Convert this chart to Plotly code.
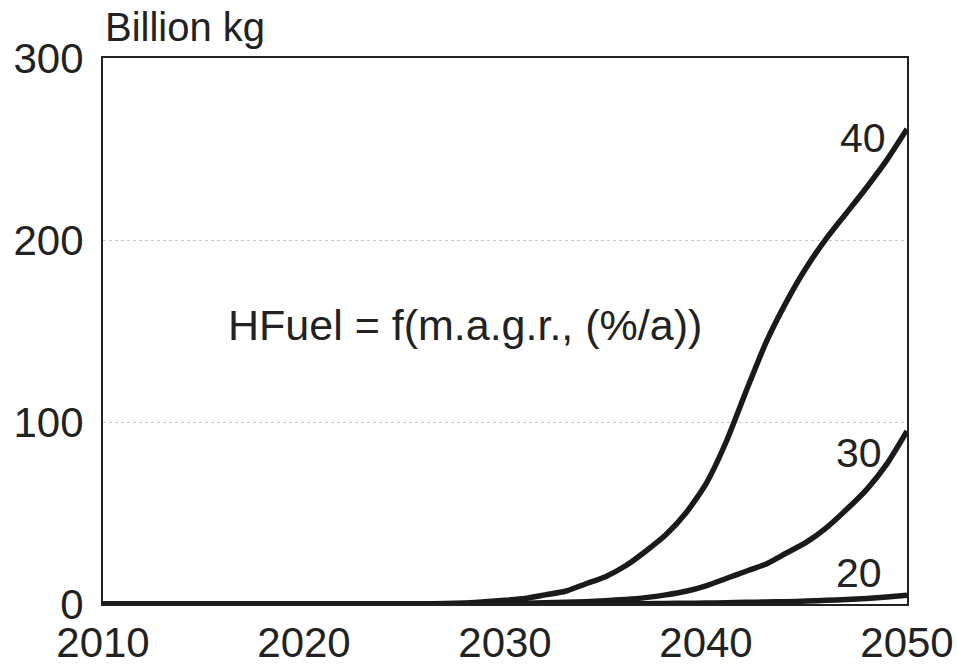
import plotly.graph_objects as go

years = list(range(2010, 2051))
g40 = [0]*17 + [0.3, 0.6, 1.2, 2, 3, 5, 7, 11, 15, 21, 29, 38, 50, 66, 89, 117, 144, 166, 185, 201, 215, 229, 244, 261]
g30 = [0]*20 + [0.3, 0.4, 0.7, 1.0, 1.3, 1.8, 2.5, 3.5, 5, 7, 10, 14, 18, 22, 28, 34, 42, 52, 63, 77, 95]
g20 = [0]*26 + [0.1, 0.2, 0.3, 0.4, 0.5, 0.7, 0.9, 1.1, 1.3, 1.6, 2.0, 2.5, 3.0, 3.8, 4.8]

series = [("40", g40), ("30", g30), ("20", g20)]
label_pos = {"40": (2047.8, 256), "30": (2047.6, 83), "20": (2047.6, 17)}

yticks = [0, 100, 200, 300]
xticks = [2010, 2020, 2030, 2040, 2050]

FONT = "Liberation Sans, Arial, sans-serif"
TXT = "#222222"

fig = go.Figure()
for name, vals in series:
    fig.add_trace(go.Scatter(x=years, y=vals, mode="lines", name=name,
                             line=dict(color="#1a1a1a", width=5.5, shape="spline", smoothing=0.6),
                             showlegend=False, hoverinfo="skip"))
    lx, ly = label_pos[name]
    fig.add_annotation(x=lx, y=ly, text=name, showarrow=False,
                       font=dict(family=FONT, size=41, color=TXT),
                       xanchor="center", yanchor="middle")

fig.add_annotation(x=2028, y=153.3, text="HFuel = f(m.a.g.r., (%/a))", showarrow=False,
                   font=dict(family=FONT, size=43, color=TXT), xanchor="center", yanchor="middle")

fig.add_annotation(xref="paper", yref="paper", x=0.0, y=1 + 31/546, text="Billion kg",
                   showarrow=False, font=dict(family=FONT, size=40, color=TXT),
                   xanchor="left", yanchor="middle")

fig.update_layout(
    width=957, height=666,
    margin=dict(l=103, r=50, t=58, b=62, autoexpand=False),
    paper_bgcolor="white", plot_bgcolor="white",
    font=dict(family=FONT, color=TXT),
)
fig.update_xaxes(range=[2010, 2050], tickvals=xticks, ticktext=[str(v) for v in xticks],
                 showgrid=False, zeroline=False, showline=True, linecolor="#222", linewidth=2,
                 mirror=True, ticks="", tickfont=dict(size=42, family=FONT, color=TXT),
                 ticklabelstandoff=1, automargin=False, ticklabeloverflow="allow")
fig.update_yaxes(range=[0, 300], tickvals=yticks, ticktext=[str(v) for v in yticks],
                 showgrid=True, gridcolor="#c8c8c8", gridwidth=1, griddash="dot",
                 zeroline=False, showline=True, linecolor="#222", linewidth=2,
                 mirror=True, ticks="", tickfont=dict(size=42, family=FONT, color=TXT),
                 ticklabelstandoff=9, automargin=False, ticklabeloverflow="allow")

fig.write_html("out.html", config={"displayModeBar": False, "staticPlot": True},
               post_script="document.body.style.margin='0';document.body.style.overflow='hidden';")
